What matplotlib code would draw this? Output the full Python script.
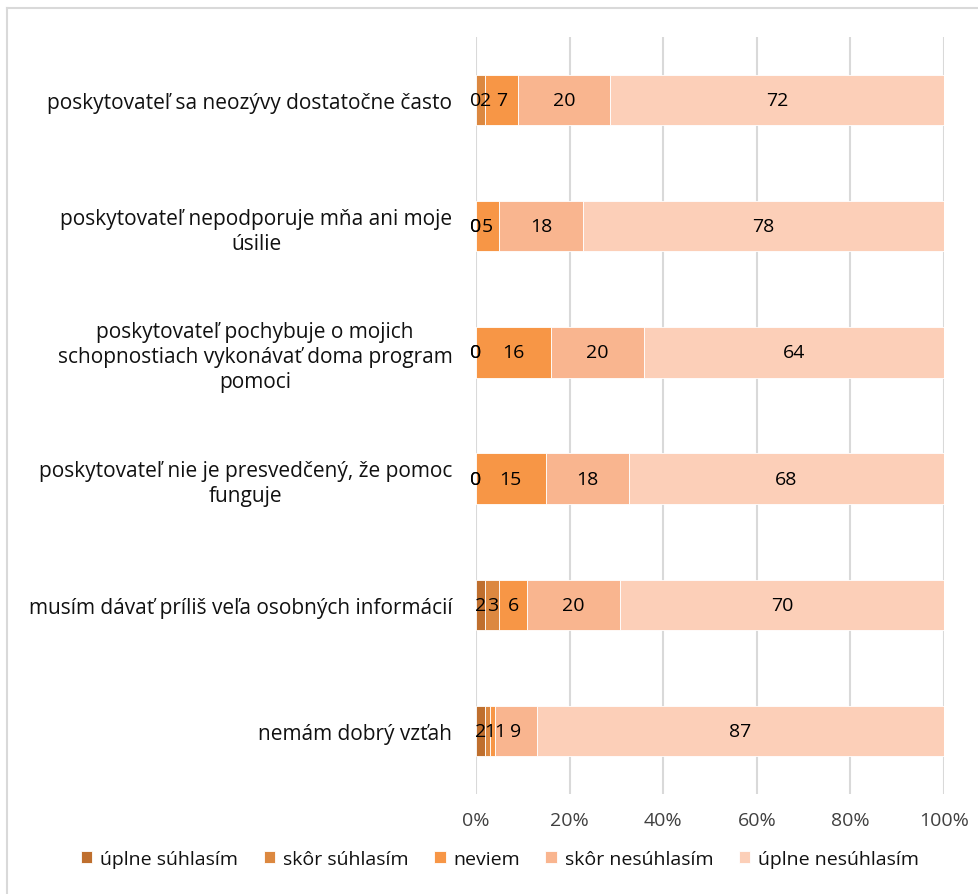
import matplotlib
matplotlib.use("Agg")
import matplotlib.pyplot as plt
from matplotlib.lines import Line2D
import numpy as np

plt.rcParams['font.family'] = ['Open Sans', 'DejaVu Sans']

categories = [
    "poskytovateľ sa neozývy dostatočne často",
    "poskytovateľ nepodporuje mňa ani moje\núsilie",
    "poskytovateľ pochybuje o mojich\nschopnostiach vykonávať doma program\npomoci",
    "poskytovateľ nie je presvedčený, že pomoc\nfunguje",
    "musím dávať príliš veľa osobných informácií",
    "nemám dobrý vzťah",
]
series_names = ["úplne súhlasím", "skôr súhlasím", "neviem",
                "skôr nesúhlasím", "úplne nesúhlasím"]
uplne_suhlasim = [0, 0, 0, 0, 2, 2]
skor_suhlasim = [2, 0, 0, 0, 3, 1]
neviem = [7, 5, 16, 15, 6, 1]
skor_nesuhlasim = [20, 18, 20, 18, 20, 9]
uplne_nesuhlasim = [72, 78, 64, 68, 70, 87]

colors = ["#BF6F2E", "#DC8840", "#F79646", "#F9B58F", "#FCCFB8"]

data = np.array([uplne_suhlasim, skor_suhlasim, neviem,
                 skor_nesuhlasim, uplne_nesuhlasim], dtype=float)
pct = data / data.sum(axis=0) * 100

fig = plt.figure(figsize=(9.79, 8.95), dpi=100)
ax = fig.add_axes([476 / 979, 1 - 795 / 895, 468 / 979, 757 / 895])

y = np.arange(len(categories))
starts = np.vstack([np.zeros(len(categories)), np.cumsum(pct, axis=0)[:-1]])
for i, name in enumerate(series_names):
    ax.barh(y, pct[i], left=starts[i], height=0.4, color=colors[i],
            edgecolor="white", linewidth=0.6, label=name, zorder=3)

# value labels at segment centres, pushed apart a little in narrow segments
min_gap = 2.0
for j in range(len(categories)):
    prev_x, prev_v = None, None
    for i in range(len(series_names)):
        x = starts[i][j] + pct[i][j] / 2
        v = data[i][j]
        if prev_x is not None and not (v == 0 and prev_v == 0):
            x = max(x, prev_x + min_gap)
        ax.text(x, y[j], f"{v:.0f}", ha="center", va="center",
                fontsize=14, color="#000000", zorder=4)
        prev_x, prev_v = x, v

ax.set_xlim(0, 100)
ax.set_ylim(len(categories) - 0.5, -0.5)
ax.set_xticks(np.arange(0, 101, 20))
ax.set_xticklabels([f"{t}%" for t in range(0, 101, 20)], fontsize=14,
                   color="#404040")
ax.set_yticks(y)
ax.set_yticklabels(categories, fontsize=15, color="#111111",
                   multialignment="center", linespacing=1.25)
ax.tick_params(axis="both", length=0)
ax.tick_params(axis="x", pad=12)
ax.tick_params(axis="y", pad=17)
ax.grid(axis="x", color="#D9D9D9", linewidth=1.5, zorder=0)
for s in ax.spines.values():
    s.set_visible(False)

leg = fig.legend(loc="center", bbox_to_anchor=(500 / 979, 1 - 860 / 895),
                 ncol=5, frameon=False, fontsize=14, handlelength=0.6,
                 handleheight=0.6, handletextpad=0.4, columnspacing=1.3)
for t in leg.get_texts():
    t.set_color("#111111")

# thin chart border along the top and left edges
fig.add_artist(Line2D([7 / 979, 1], [1 - 9 / 895] * 2, color="#D9D9D9",
                      linewidth=1.5, transform=fig.transFigure))
fig.add_artist(Line2D([7 / 979] * 2, [0, 1 - 9 / 895], color="#D9D9D9",
                      linewidth=1.5, transform=fig.transFigure))

fig.savefig("out.png", dpi=100)
